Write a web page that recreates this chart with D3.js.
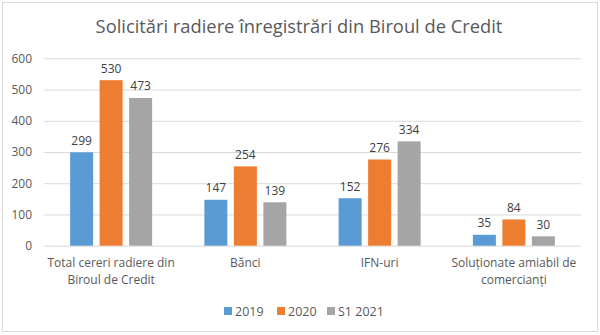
<!DOCTYPE html>
<html>
<head>
<meta charset="utf-8">
<script src="https://cdn.jsdelivr.net/npm/d3@7/dist/d3.min.js"></script>
<style>
  html, body { margin: 0; padding: 0; background: #fff; }
  svg { display: block; }
  text { font-family: "Open Sans", "Noto Sans", sans-serif; }
</style>
</head>
<body>
<svg id="chart" width="600" height="335"></svg>
<script>
const title = "Solicitări radiere înregistrări din Biroul de Credit";
const categories = [
  ["Total cereri radiere din", "Biroul de Credit"],
  ["Bănci"],
  ["IFN-uri"],
  ["Soluționate amiabil de", "comercianți"]
];
const seriesNames = ["2019", "2020", "S1 2021"];
const values2019 = [299, 147, 152, 35];
const values2020 = [530, 254, 276, 84];
const valuesS12021 = [473, 139, 334, 30];
const yTicks = [0, 100, 200, 300, 400, 500, 600];
const colors = ["#5B9BD5", "#ED7D31", "#A5A5A5"];

const seriesValues = [values2019, values2020, valuesS12021];
const catKeys = categories.map((c, i) => i);

const svg = d3.select("#chart");

// border
svg.append("rect")
  .attr("x", 2.5).attr("y", 2.5).attr("width", 595).attr("height", 329)
  .attr("fill", "#fff").attr("stroke", "#d9d9d9").attr("stroke-width", 1);

const plot = { left: 44, right: 581, top: 58.3, bottom: 245.7 };

const y = d3.scaleLinear().domain([0, 600]).range([plot.bottom, plot.top]);
const x0 = d3.scaleBand().domain(catKeys).range([plot.left, plot.right]).padding(0);
const groupW = 82;
const x1 = d3.scaleBand().domain(d3.range(seriesNames.length))
  .range([0, groupW]).paddingInner(0.22).paddingOuter(0);
const groupOffset = (x0.bandwidth() - groupW) / 2;

// gridlines
const yAxis = d3.axisLeft(y).tickValues(yTicks).tickSize(-(plot.right - plot.left)).tickPadding(12);
const gy = svg.append("g").attr("transform", `translate(${plot.left},0)`).call(yAxis);
gy.select(".domain").remove();
gy.selectAll(".tick line").attr("stroke", "#d9d9d9").attr("stroke-width", 1);
gy.selectAll(".tick text")
  .attr("fill", "#595959").attr("font-size", "12px")
  .attr("font-family", "Open Sans, sans-serif");

// bars
const groups = svg.append("g").selectAll("g")
  .data(catKeys).join("g")
  .attr("transform", d => `translate(${x0(d) + groupOffset},0)`);

groups.selectAll("rect")
  .data(ci => seriesValues.map((vals, si) => ({ si, v: vals[ci] })))
  .join("rect")
  .attr("x", d => x1(d.si))
  .attr("width", x1.bandwidth())
  .attr("y", d => y(d.v))
  .attr("height", d => y(0) - y(d.v))
  .attr("fill", d => colors[d.si]);

groups.selectAll("text.val")
  .data(ci => seriesValues.map((vals, si) => ({ si, v: vals[ci] })))
  .join("text").attr("class", "val")
  .attr("x", d => x1(d.si) + x1.bandwidth() / 2)
  .attr("y", d => y(d.v) - 7.5)
  .attr("text-anchor", "middle")
  .attr("font-size", "12px")
  .attr("fill", "#404040")
  .text(d => d.v);

// category labels
const catG = svg.append("g");
catKeys.forEach(ci => {
  const t = catG.append("text")
    .attr("text-anchor", "middle")
    .attr("font-size", "12px")
    .attr("fill", "#595959");
  categories[ci].forEach((line, li) => {
    t.append("tspan")
      .attr("x", x0(ci) + x0.bandwidth() / 2)
      .attr("y", 267 + li * 17)
      .text(line);
  });
});

// title
const tt = svg.append("text")
  .attr("x", 299).attr("y", 33)
  .attr("text-anchor", "middle")
  .attr("font-size", "19px")
  .attr("fill", "#595959")
  .text(title);
// fit title to measured width of reference (~407px)
const tw = tt.node().getComputedTextLength();
tt.attr("font-size", (19 * 407 / tw).toFixed(2) + "px");

// legend
const legendX = [224, 277, 327];
const lg = svg.append("g");
seriesNames.forEach((name, i) => {
  lg.append("rect")
    .attr("x", legendX[i]).attr("y", 307)
    .attr("width", 8).attr("height", 8)
    .attr("fill", colors[i]);
  lg.append("text")
    .attr("x", legendX[i] + 11).attr("y", 315.5)
    .attr("font-size", "12.5px")
    .attr("fill", "#595959")
    .text(name);
});
</script>
</body>
</html>
